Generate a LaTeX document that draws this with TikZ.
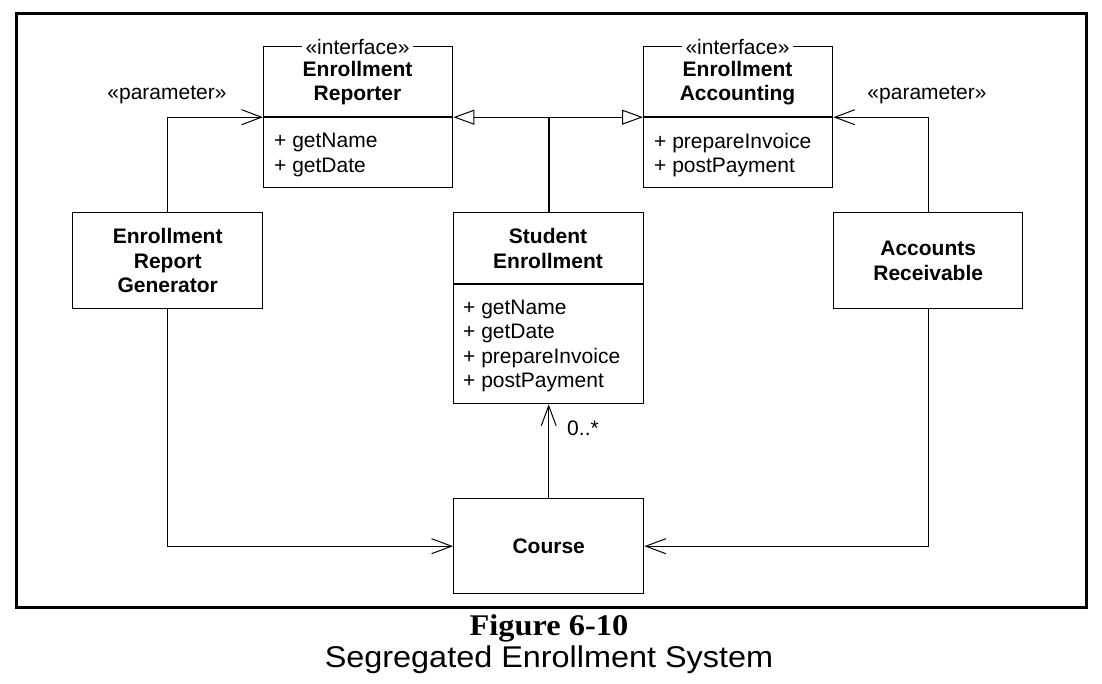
\documentclass[tikz,border=0pt]{standalone}
\usepackage{fontspec}
\setmainfont{Liberation Sans}
\newfontfamily\capserif{Liberation Serif}
\usetikzlibrary{arrows.meta}
\begin{document}
\begin{tikzpicture}[x=1pt,y=-1pt,
  box/.style={draw, line width=1.4pt, inner sep=0pt, anchor=north west, align=center,
    font=\fontsize{21}{24.5}\selectfont\bfseries},
  lbl/.style={font=\fontsize{21}{24.5}\selectfont, inner sep=0pt, align=center},
  ttl/.style={font=\fontsize{21}{24.5}\selectfont\bfseries, inner sep=0pt, align=center},
  meth/.style={font=\fontsize{21}{24.5}\selectfont, inner sep=0pt, anchor=west, align=left},
  conn/.style={line width=1pt},
  openarr/.style={-{Straight Barb[length=20pt,width=15pt]}},
  genarr/.style={-{Triangle[open,length=21pt,width=15pt,fill=white]}},
]
\useasboundingbox (0,0) rectangle (1102,684);
\draw[line width=3pt] (16,14) rectangle (1086,607);

% Enrollment Reporter
\node[box, minimum width=189pt, minimum height=141pt] (rep) at (263,46) {};
\draw[line width=1.4pt] (rep.west) -- (rep.east);
\node[lbl, fill=white, inner xsep=4pt, inner ysep=1pt] (repst) at (357.5,47) {«interface»};
\node[ttl] (reptitle) at (357.5,83) {Enrollment\\Reporter};
\node[meth] (repops) at (274,155) {+ getName\\+ getDate};

% Enrollment Accounting
\node[box, minimum width=189pt, minimum height=141pt] (acc) at (643,46) {};
\draw[line width=1.4pt] (acc.west) -- (acc.east);
\node[lbl, fill=white, inner xsep=4pt, inner ysep=1pt] (accst) at (737.5,47) {«interface»};
\node[ttl] (acctitle) at (737.5,83) {Enrollment\\Accounting};
\node[meth] (accops) at (654,155) {+ prepareInvoice\\+ postPayment};

% Student Enrollment
\node[box, minimum width=190pt, minimum height=191pt] (se) at (453,212) {};
\draw[line width=1.4pt] ([yshift=-72pt]se.north west) -- ([yshift=-72pt]se.north east);
\node[ttl] (setitle) at (548,248.5) {Student\\Enrollment};
\node[meth] (seops) at (463,346) {+ getName\\+ getDate\\+ prepareInvoice\\+ postPayment};

% Other classes
\node[box, minimum width=190pt, minimum height=96pt] (gen) at (72,212) {Enrollment\\Report\\Generator};
\node[box, minimum width=189pt, minimum height=96pt] (ar) at (833,212) {Accounts\\Receivable};
\node[box, minimum width=190pt, minimum height=95pt] (course) at (453,498) {Course};

% Generalizations
\coordinate (j) at (se.north |- rep.east);
\draw[line width=1.6pt] (se.north) -- (j);
\draw[conn, genarr] (j) -- (rep.east);
\draw[conn, genarr] (j) -- (acc.west);

% Parameter dependencies
\draw[conn, openarr] (gen.north) |- (rep.west);
\draw[conn, openarr] (ar.north) |- (acc.east);
\node[lbl] (p1) at (167,95) {«parameter»};
\node[lbl] (p2) at (927,95) {«parameter»};

% Course associations
\draw[conn, openarr] (gen.south) |- (course.west);
\draw[conn, openarr] (ar.south) |- (course.east);
\draw[conn, openarr] (course.north) -- (se.south);
\node[lbl] (mult) at (583,428) {0..*};

% Caption
\node[inner sep=0pt] (fig) at (549,628) {\capserif\bfseries\fontsize{30}{30}\selectfont\scalebox{1.08}[1]{Figure 6-10}};
\node[inner sep=0pt] (sub) at (549,660) {\fontsize{30}{30}\selectfont\scalebox{1.08}[1]{Segregated Enrollment System}};
\end{tikzpicture}
\end{document}
